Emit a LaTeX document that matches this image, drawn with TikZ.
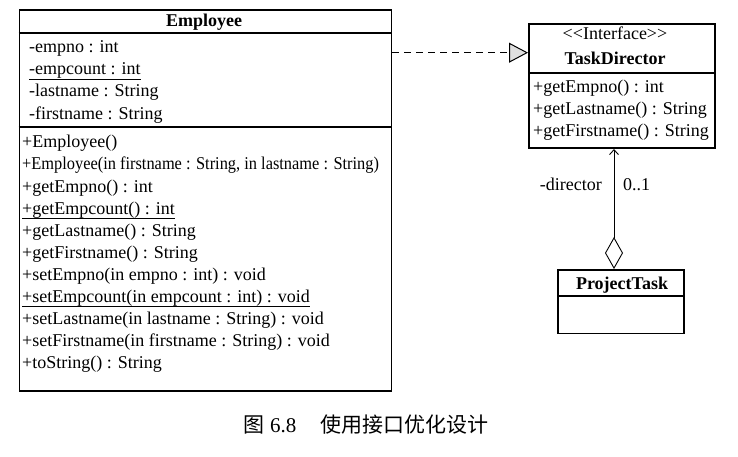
\documentclass[tikz,border=0pt]{standalone}
\usepackage{fontspec}
\setmainfont{Liberation Serif}
\newfontfamily\cjk{Noto Sans CJK SC}
\usetikzlibrary{arrows.meta}
\begin{document}
\begin{tikzpicture}[x=1pt,y=-1pt,
  every node/.style={font=\fontsize{18}{22}\selectfont},
  box/.style={draw, line width=1.7pt, rectangle, inner sep=0pt, anchor=north west},
  sep/.style={line width=1.7pt},
  txt/.style={anchor=base west, inner sep=0pt},
  ttl/.style={anchor=base, inner sep=0pt, font=\fontsize{18}{22}\selectfont\bfseries},
  ul/.style={line width=0.8pt}]
\useasboundingbox (0,0) rectangle (738,457);
% Employee
\node[box, minimum width=372pt, minimum height=381pt] (emp) at (18.5,9) {};
\coordinate (e1) at (0,33);
\coordinate (e2) at (0,127);
\draw[sep] (emp.west |- e1) -- (emp.east |- e1);
\draw[sep] (emp.west |- e2) -- (emp.east |- e2);
\node[ttl] (empt) at (204,27) {Employee};
\node[txt] (a1) at (29,52.5) {-empno : int};
\node[txt] (a2) at (29,74.7) {-empcount : int};
\node[txt] (a3) at (29,96.9) {-lastname : String};
\node[txt] (a4) at (29,119.1) {-firstname : String};
\draw[ul] ([yshift=-0.5pt]a2.south west) -- ([yshift=-0.5pt]a2.south east);
\node[txt] (m1) at (22,148) {+Employee()};
\node[txt] (m2) at (22,170) {\scalebox{0.91}[1]{+Employee(in firstname : String, in lastname : String)}};
\node[txt] (m3) at (22,192) {+getEmpno() : int};
\node[txt] (m4) at (22,214) {+getEmpcount() : int};
\node[txt] (m5) at (22,236) {+getLastname() : String};
\node[txt] (m6) at (22,258) {+getFirstname() : String};
\node[txt] (m7) at (22,280) {+setEmpno(in empno : int) : void};
\node[txt] (m8) at (22,302) {+setEmpcount(in empcount : int) : void};
\node[txt] (m9) at (22,324) {+setLastname(in lastname : String) : void};
\node[txt] (m10) at (22,346) {+setFirstname(in firstname : String) : void};
\node[txt] (m11) at (22,368) {+toString() : String};
\draw[ul] ([yshift=-0.5pt]m4.south west) -- ([yshift=-0.5pt]m4.south east);
\draw[ul] ([yshift=-0.5pt]m8.south west) -- ([yshift=-0.5pt]m8.south east);
% TaskDirector
\node[box, minimum width=186pt, minimum height=124pt] (td) at (528,23.3) {};
\coordinate (t1) at (0,72.7);
\draw[sep] (td.west |- t1) -- (td.east |- t1);
\node[anchor=base, inner sep=0pt] (tds) at (615,39.5) {<\kern0pt<Interface>\kern0pt>};
\node[ttl] (tdt) at (615,65) {TaskDirector};
\node[txt] (tm1) at (533,93) {+getEmpno() : int};
\node[txt] (tm2) at (533,115) {+getLastname() : String};
\node[txt] (tm3) at (533,137) {+getFirstname() : String};
% ProjectTask
\node[box, minimum width=126pt, minimum height=63.5pt] (pt) at (557,269) {};
\coordinate (p1) at (0,295.7);
\draw[sep] (pt.west |- p1) -- (pt.east |- p1);
\node[ttl] (ptt) at (622,289) {ProjectTask};
% realization
\coordinate (ry) at (0,52.7);
\draw[line width=1pt, dash pattern=on 7pt off 5pt, -{Triangle[width=20pt,length=19pt,open,fill=gray!25,line width=1pt]}]
  (emp.east |- ry) -- (td.west |- ry);
% association
\coordinate (lx) at (614,0);
\draw[line width=0.9pt, {Diamond[open,width=18pt,length=32pt,line width=0.9pt]}-{Straight Barb[length=5pt,width=9pt,line width=0.9pt]}]
  (pt.north -| lx) -- (td.south -| lx);
\node[anchor=base east, inner sep=0pt] (dir) at (602,190) {-director};
\node[anchor=base west, inner sep=0pt] (mul) at (623,190) {0..1};
% caption
\node[anchor=base, inner sep=0pt, font=\fontsize{21}{24}\selectfont] (cap) at (366,432)
  {{\cjk 图} 6.8\hspace{24pt}{\cjk 使用接口优化设计}};
\end{tikzpicture}
\end{document}
